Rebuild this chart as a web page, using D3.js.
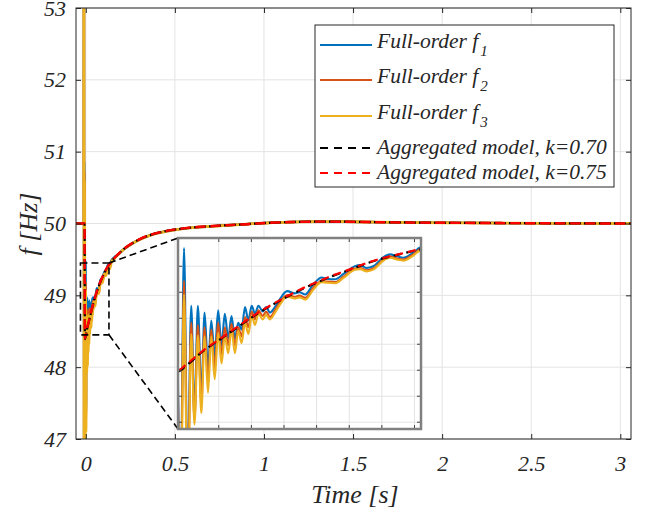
<!DOCTYPE html>
<html>
<head>
<meta charset="utf-8">
<script src="https://cdn.jsdelivr.net/npm/d3@7"></script>
<style>
  body { margin: 0; background: #fff; }
  svg text { font-family: 'Liberation Serif', 'DejaVu Serif', 'Times New Roman', serif; font-style: italic; fill: #262626; }
</style>
</head>
<body>
<svg id="chart" width="646" height="510"></svg>
<script>
// ---- data ----
var xTicks = [0, 0.5, 1, 1.5, 2, 2.5, 3];
var xTickLabels = ['0', '0.5', '1', '1.5', '2', '2.5', '3'];
var yTicks = [47, 48, 49, 50, 51, 52, 53];
var yTickLabels = ['47', '48', '49', '50', '51', '52', '53'];

var legendLabels = ['Full-order f', 'Full-order f', 'Full-order f',
                    'Aggregated model, k=0.70', 'Aggregated model, k=0.75'];
var legendSubs = ['1', '2', '3', '', ''];

// zoom window drawn on the main axes [t0, t1], [f0, f1]
var zoomT = [-0.03, 0.13];
var zoomF = [48.45, 49.45];
// inset axes limits and grid
var insetT = [-0.005, 0.144];
var insetF = [47.88, 49.57];
var insetGridT = [0.02, 0.04, 0.06, 0.08, 0.10, 0.12, 0.14];
var insetGridF = [47.94, 48.17, 48.40, 48.63, 48.86, 49.09, 49.32];

// before the event all frequencies sit at 50 Hz
var preEvent = [[-0.06, 50], [-0.0115, 50]];

// full-order f1 (blue) during the transient
var f1Transient = [[-0.0105,53.7],[-0.0095,46.6],[-0.0080,50.86],[-0.0034,47.30],[-0.0013,49.48],[0.0009,47.40],
  [0.0031,48.97],[0.0051,48.00],[0.0072,48.97],[0.0093,48.18],[0.0113,48.91],[0.0134,48.42],[0.0154,48.84],
  [0.0175,48.52],[0.0196,48.93],[0.0217,48.62],[0.0237,48.90],[0.0258,48.68],[0.0278,48.88],[0.0299,48.68],
  [0.0319,48.82],[0.0340,48.76],[0.0361,48.96],[0.0381,48.84],[0.0402,48.97],[0.0422,48.90],[0.0443,48.97],
  [0.0470,48.92],[0.0490,48.96],[0.0514,48.91],[0.0545,48.96],[0.0575,49.03],[0.0620,49.10],[0.0665,49.08],
  [0.0695,49.09],[0.0730,49.07],[0.0780,49.16],[0.0831,49.22],[0.0862,49.21],[0.0913,49.205],[0.0963,49.25],
  [0.1035,49.32],[0.1066,49.33],[0.1107,49.305],[0.1147,49.32],[0.1219,49.41],[0.1250,49.425],[0.1291,49.41],
  [0.1331,49.395],[0.1393,49.44],[0.1434,49.485],[0.1600,49.53]];

// full-order f2 (orange)
var f2Transient = [[-0.0105,53.6],[-0.0095,46.7],[-0.0080,50.72],[-0.0034,47.20],[-0.0013,49.19],[0.0009,47.30],
  [0.0031,48.82],[0.0051,47.96],[0.0072,48.80],[0.0093,48.10],[0.0113,48.78],[0.0134,48.30],[0.0154,48.76],
  [0.0175,48.42],[0.0196,48.82],[0.0217,48.54],[0.0237,48.78],[0.0258,48.62],[0.0278,48.81],[0.0299,48.62],
  [0.0319,48.78],[0.0340,48.70],[0.0361,48.87],[0.0381,48.78],[0.0402,48.92],[0.0422,48.85],[0.0443,48.93],
  [0.0470,48.88],[0.0490,48.92],[0.0514,48.87],[0.0545,48.93],[0.0575,49.00],[0.0620,49.065],[0.0665,49.05],
  [0.0695,49.06],[0.0730,49.04],[0.0780,49.13],[0.0831,49.19],[0.0862,49.185],[0.0913,49.18],[0.0963,49.225],
  [0.1035,49.30],[0.1066,49.305],[0.1107,49.285],[0.1147,49.30],[0.1219,49.39],[0.1250,49.405],[0.1291,49.39],
  [0.1331,49.38],[0.1393,49.425],[0.1434,49.47],[0.1600,49.52]];

// full-order f3 (yellow)
var f3Transient = [[-0.0105,53.8],[-0.0095,46.5],[-0.0080,50.60],[-0.0034,47.00],[-0.0013,49.07],[0.0009,47.10],
  [0.0031,48.72],[0.0051,47.92],[0.0072,48.71],[0.0093,48.02],[0.0113,48.70],[0.0134,48.20],[0.0154,48.70],
  [0.0175,48.32],[0.0196,48.73],[0.0217,48.46],[0.0237,48.70],[0.0258,48.55],[0.0278,48.76],[0.0299,48.55],
  [0.0319,48.75],[0.0340,48.64],[0.0361,48.82],[0.0381,48.72],[0.0402,48.88],[0.0422,48.80],[0.0443,48.90],
  [0.0470,48.85],[0.0490,48.89],[0.0514,48.85],[0.0545,48.91],[0.0575,48.98],[0.0620,49.05],[0.0665,49.035],
  [0.0695,49.045],[0.0730,49.025],[0.0780,49.115],[0.0831,49.18],[0.0862,49.175],[0.0913,49.17],[0.0963,49.215],
  [0.1035,49.29],[0.1066,49.295],[0.1107,49.275],[0.1147,49.29],[0.1219,49.38],[0.1250,49.395],[0.1291,49.38],
  [0.1331,49.37],[0.1393,49.415],[0.1434,49.46],[0.1600,49.51]];

// after the transient the three full-order traces overlap
var fullTail = [[0.18,49.565],[0.21,49.635],[0.25,49.705],[0.30,49.775],[0.36,49.835],[0.42,49.876],
  [0.51,49.916],[0.60,49.942],[0.75,49.968],[0.90,49.99],[1.03,50.01],[1.15,50.02],[1.31,50.026],
  [1.45,50.025],[1.60,50.02],[1.88,50.012],[2.10,50.009],[2.33,50.006],[2.60,50.003],[3.10,50.0]];

// aggregated model, k = 0.70 (black dashed)
var aggK70 = [[-0.06,50],[-0.007,50],[-0.005,48.39],[0,48.44],[0.01,48.565],[0.02,48.665],[0.03,48.765],
  [0.04,48.865],[0.05,48.955],[0.06,49.035],[0.07,49.11],[0.08,49.175],[0.09,49.235],[0.10,49.287],
  [0.11,49.342],[0.12,49.387],[0.13,49.423],[0.143,49.468],[0.16,49.518],[0.18,49.568],[0.21,49.638],
  [0.25,49.708],[0.30,49.778],[0.36,49.838],[0.42,49.879],[0.51,49.919],[0.60,49.944],[0.75,49.97],
  [0.90,49.99],[1.03,50.01],[1.15,50.02],[1.31,50.026],[1.45,50.025],[1.60,50.02],[1.88,50.012],
  [2.10,50.009],[2.33,50.006],[2.60,50.003],[3.10,50.0]];

// aggregated model, k = 0.75 (red dashed)
var aggK75 = [[-0.06,50],[-0.007,50],[-0.005,48.40],[0,48.45],[0.01,48.57],[0.02,48.67],[0.03,48.77],
  [0.04,48.87],[0.05,48.96],[0.06,49.04],[0.07,49.115],[0.08,49.18],[0.09,49.24],[0.10,49.29],
  [0.11,49.345],[0.12,49.39],[0.13,49.425],[0.143,49.47],[0.16,49.52],[0.18,49.57],[0.21,49.64],
  [0.25,49.71],[0.30,49.78],[0.36,49.84],[0.42,49.88],[0.51,49.92],[0.60,49.945],[0.75,49.97],
  [0.90,49.99],[1.03,50.01],[1.15,50.02],[1.31,50.026],[1.45,50.025],[1.60,50.02],[1.88,50.012],
  [2.10,50.009],[2.33,50.006],[2.60,50.003],[3.10,50.0]];

var series = [
  { name: 'f1', data: preEvent.concat(f1Transient, fullTail), color: '#0072BD', width: 2.4, dash: null },
  { name: 'f2', data: preEvent.concat(f2Transient, fullTail), color: '#D95319', width: 2.4, dash: null },
  { name: 'f3', data: preEvent.concat(f3Transient, fullTail), color: '#EDB120', width: 2.8, dash: null },
  { name: 'k70', data: aggK70, color: '#000000', width: 2.2, dash: '12 3' },
  { name: 'k75', data: aggK75, color: '#FF0000', width: 2.4, dash: '10 5' }
];

var serif = "'Liberation Serif', 'DejaVu Serif', 'Times New Roman', serif";

// ---- layout ----
var svg = d3.select('#chart');
var L = 76, R = 631, T = 8, B = 439;

var x = d3.scaleLinear().domain([-0.055, 3.06]).range([L, R]);
var y = d3.scaleLinear().domain([47, 53]).range([B, T]);

svg.append('rect').attr('width', 646).attr('height', 510).attr('fill', '#fff');

svg.append('defs').append('clipPath').attr('id', 'mainClip')
  .append('rect').attr('x', L).attr('y', T).attr('width', R - L).attr('height', B - T);

// grid
var grid = svg.append('g').attr('stroke', '#e3e3e3').attr('stroke-width', 1);
grid.selectAll('.gx').data(xTicks).enter().append('line')
  .attr('x1', d => x(d)).attr('x2', d => x(d)).attr('y1', T).attr('y2', B);
grid.selectAll('.gy').data(yTicks).enter().append('line')
  .attr('x1', L).attr('x2', R).attr('y1', d => y(d)).attr('y2', d => y(d));

var line = d3.line()
  .x(d => x(d[0]))
  .y(d => y(d[1]))
  .curve(d3.curveMonotoneX);

var plot = svg.append('g').attr('clip-path', 'url(#mainClip)');
series.forEach(function (s) {
  plot.append('path')
    .attr('d', line(s.data))
    .attr('fill', 'none')
    .attr('stroke', s.color)
    .attr('stroke-width', s.width)
    .attr('stroke-dasharray', s.dash);
});

// axes with inward ticks
function styleAxis(g) {
  g.select('.domain').remove();
  g.attr('font-family', serif)
    .attr('font-size', 22)
    .attr('color', '#262626');
  g.selectAll('text').style('font-family', serif).style('font-style', 'italic');
}

svg.append('g').attr('transform', 'translate(0,' + B + ')')
  .call(d3.axisBottom(x).tickValues(xTicks).tickFormat((d, i) => xTickLabels[i]).tickSize(-5).tickPadding(16))
  .call(styleAxis);
svg.append('g').attr('transform', 'translate(0,' + T + ')')
  .call(d3.axisTop(x).tickValues(xTicks).tickFormat('').tickSize(-5))
  .call(styleAxis);
svg.append('g').attr('transform', 'translate(' + L + ',0)')
  .call(d3.axisLeft(y).tickValues(yTicks).tickFormat((d, i) => yTickLabels[i]).tickSize(-5).tickPadding(10))
  .call(styleAxis);
svg.append('g').attr('transform', 'translate(' + R + ',0)')
  .call(d3.axisRight(y).tickValues(yTicks).tickFormat('').tickSize(-5))
  .call(styleAxis);

svg.append('rect').attr('x', L).attr('y', T).attr('width', R - L).attr('height', B - T)
  .attr('fill', 'none').attr('stroke', '#262626').attr('stroke-width', 1);

// axis titles
svg.append('text').attr('x', 355).attr('y', 503).attr('text-anchor', 'middle')
  .style('font-family', serif).attr('font-size', 26).text('Time [s]');
svg.append('text').attr('transform', 'translate(37,224) rotate(-90)').attr('text-anchor', 'middle')
  .style('font-family', serif).attr('font-size', 26).text('f [Hz]');

// ---- zoom window and connectors ----
var ix0 = 178, ix1 = 421, iy0 = 238, iy1 = 429;
var zx0 = x(zoomT[0]), zx1 = x(zoomT[1]), zy0 = y(zoomF[1]), zy1 = y(zoomF[0]);

var zoomG = svg.append('g').attr('fill', 'none').attr('stroke', '#000')
  .attr('stroke-width', 1.6).attr('stroke-dasharray', '7 4');
zoomG.append('rect').attr('x', zx0).attr('y', zy0).attr('width', zx1 - zx0).attr('height', zy1 - zy0);
zoomG.append('line').attr('x1', zx1).attr('y1', zy0).attr('x2', ix0).attr('y2', iy0);
zoomG.append('line').attr('x1', zx1).attr('y1', zy1).attr('x2', ix0).attr('y2', iy1);

// ---- inset ----
var xi = d3.scaleLinear().domain(insetT).range([ix0, ix1]);
var yi = d3.scaleLinear().domain(insetF).range([iy1, iy0]);

svg.select('defs').append('clipPath').attr('id', 'insetClip')
  .append('rect').attr('x', ix0).attr('y', iy0).attr('width', ix1 - ix0).attr('height', iy1 - iy0);

var inset = svg.append('g');
inset.append('rect').attr('x', ix0).attr('y', iy0).attr('width', ix1 - ix0).attr('height', iy1 - iy0)
  .attr('fill', '#fff');
var ig = inset.append('g').attr('stroke', '#e3e3e3').attr('stroke-width', 1);
ig.selectAll('.gx').data(insetGridT).enter().append('line')
  .attr('x1', d => xi(d)).attr('x2', d => xi(d)).attr('y1', iy0).attr('y2', iy1);
ig.selectAll('.gy').data(insetGridF).enter().append('line')
  .attr('x1', ix0).attr('x2', ix1).attr('y1', d => yi(d)).attr('y2', d => yi(d));

var lineInset = d3.line()
  .x(d => xi(d[0]))
  .y(d => yi(d[1]))
  .curve(d3.curveMonotoneX);

var insetPlot = inset.append('g').attr('clip-path', 'url(#insetClip)');
series.forEach(function (s) {
  insetPlot.append('path')
    .attr('d', lineInset(s.data.filter(d => d[0] > -0.02 && d[0] < 0.2)))
    .attr('fill', 'none')
    .attr('stroke', s.color)
    .attr('stroke-width', s.dash ? 2.2 : 2.1)
    .attr('stroke-dasharray', s.dash ? '8 5' : null);
});

// inward ticks on the inset frame
var it = inset.append('g').attr('stroke', '#404040').attr('stroke-width', 1);
it.selectAll('.tl').data(insetGridF).enter().append('line')
  .attr('x1', ix0).attr('x2', ix0 + 4).attr('y1', d => yi(d)).attr('y2', d => yi(d));
it.selectAll('.tr').data(insetGridF).enter().append('line')
  .attr('x1', ix1 - 4).attr('x2', ix1).attr('y1', d => yi(d)).attr('y2', d => yi(d));
it.selectAll('.tt').data(insetGridT).enter().append('line')
  .attr('x1', d => xi(d)).attr('x2', d => xi(d)).attr('y1', iy0).attr('y2', iy0 + 4);
it.selectAll('.tb').data(insetGridT).enter().append('line')
  .attr('x1', d => xi(d)).attr('x2', d => xi(d)).attr('y1', iy1 - 4).attr('y2', iy1);

inset.append('rect').attr('x', ix0).attr('y', iy0).attr('width', ix1 - ix0).attr('height', iy1 - iy0)
  .attr('fill', 'none').attr('stroke', '#808080').attr('stroke-width', 2.5);

// ---- legend ----
var legend = svg.append('g');
legend.append('rect').attr('x', 315).attr('y', 25).attr('width', 299).attr('height', 162)
  .attr('fill', '#fff').attr('stroke', '#262626').attr('stroke-width', 1);

var rowY = [45, 80, 116, 148, 173];
series.forEach(function (s, i) {
  legend.append('line')
    .attr('x1', 320).attr('x2', 372).attr('y1', rowY[i]).attr('y2', rowY[i])
    .attr('stroke', s.color).attr('stroke-width', 2.2)
    .attr('stroke-dasharray', s.dash ? '8 6' : null);
  var t = legend.append('text')
    .attr('x', 377)
    .attr('y', rowY[i] + (legendSubs[i] ? 3 : 6))
    .style('font-family', serif)
    .attr('font-size', 21.5)
    .text(legendLabels[i]);
  if (legendSubs[i]) {
    t.append('tspan').attr('font-size', 15).attr('dx', 2).attr('dy', 8).text(legendSubs[i]);
  }
});
</script>
</body>
</html>
